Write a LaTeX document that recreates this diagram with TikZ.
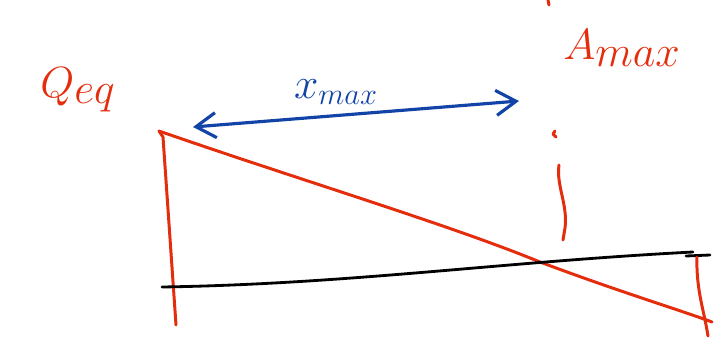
\documentclass[tikz,border=0pt]{standalone}
\usepackage{tikz}
\usepackage{xcolor}
\usetikzlibrary{arrows.meta,positioning,calc}
\definecolor{PenRed}{RGB}{228,45,12}
\definecolor{PenBlue}{RGB}{18,68,168}

\begin{document}
\begin{tikzpicture}[x=0.02cm,y=-0.02cm,
    redpen/.style={PenRed, line width=1.7pt, line cap=round, line join=round},
    bluepen/.style={PenBlue, line width=1.8pt, line cap=round},
    blackpen/.style={black, line width=1.6pt, line cap=round},
    inklabel/.style={inner sep=0pt, font=\fontsize{38}{38}\selectfont}]
      \useasboundingbox (0,0) rectangle (721,342);
      % corner points of the sketch
      \coordinate (topL) at (159,131);
      \coordinate (botL) at (176,325);
      \coordinate (baseL) at (162,287);
      \coordinate (baseR) at (693,252);
      \coordinate (topR) at (697,257);
      \coordinate (botR) at (708,336);
      \coordinate (diagEnd) at (712,322);
      \coordinate (arrL) at (193,127);
      \coordinate (arrR) at (519,101);
      % labels
      \node[inklabel, PenRed] (qeq) at (78,90) {$Q_{eq}$};
      \node[inklabel, PenBlue, font=\fontsize{27}{27}\selectfont] (xmax) at (336,92) {$x_{max}$};
      \node[inklabel, PenRed, font=\fontsize{34}{34}\selectfont] (amax) at (622,48) {$A_{max}$};
      % load diagram
      \draw[redpen] (topL) -- ++(4,6) -- (botL);
      \draw[redpen] (topL) .. controls (300,180) and (450,225) .. (540,262)
                    .. controls (620,292) and (680,310) .. (diagEnd);
      \draw[blackpen] (baseL) .. controls (350,284) and (500,262) .. (baseR);
      \draw[blackpen] (686,256) -- (710,255);
      \draw[redpen] (topR) .. controls (696,290) and (704,310) .. (botR);
      % span arrow
      \draw[bluepen, {Straight Barb[length=4mm,width=5mm]}-{Straight Barb[length=4mm,width=5mm]}] (arrL) -- (arrR);
      % dashed guide under A_max
      \draw[redpen] (555,131) -- (553,134) -- (556,137);
      \draw[redpen] (559,165) .. controls (556,185) and (568,205) .. (565,228) -- (563,240);
      \draw[redpen] (548,0) -- (549,5);
    \end{tikzpicture}
\end{document}
